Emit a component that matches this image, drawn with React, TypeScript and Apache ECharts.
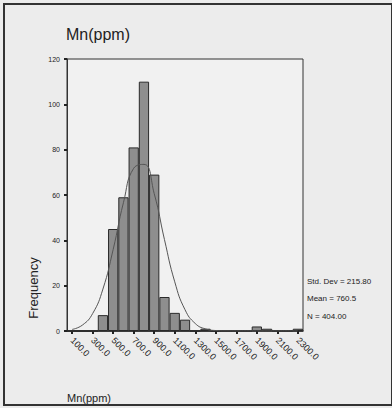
import React, { useEffect, useRef } from "react";
import * as echarts from "echarts";

const binLabels = [
  "100.0", "200.0", "300.0", "400.0", "500.0", "600.0", "700.0", "800.0",
  "900.0", "1000.0", "1100.0", "1200.0", "1300.0", "1400.0", "1500.0", "1600.0",
  "1700.0", "1800.0", "1900.0", "2000.0", "2100.0", "2200.0", "2300.0",
];
const frequencies = [0, 0, 0, 7, 45, 59, 81, 110, 69, 15, 8, 5, 0, 1, 0, 0, 0, 0, 2, 1, 0, 0, 1];
const normalCurve = [0.7, 2.6, 7.7, 18.5, 36, 56.6, 71.8, 73.5, 60.6, 40.3, 21.7, 9.4, 3.3, 0.9, 0.2, 0, 0, 0, 0, 0, 0, 0, 0];
const statLines = ["Std. Dev = 215.80", "Mean = 760.5", "N = 404.00"];
const titleText = "Mn(ppm)";
const xName = "Mn(ppm)";
const yName = "Frequency";

const FONT = "'Liberation Sans', Arial, sans-serif";

export default function App() {
  const ref = useRef<HTMLDivElement>(null);
  useEffect(() => {
    document.body.style.margin = "0";
    const chart = echarts.init(ref.current!, null, { renderer: "svg" });
    const statY = [281, 298, 316];
    chart.setOption({
      animation: false,
      backgroundColor: "#ececec",
      grid: {
        left: 67,
        right: 89,
        top: 59,
        bottom: 77,
        show: true,
        borderColor: "#333",
        borderWidth: 1,
        backgroundColor: "#f1f1f1",
      },
      xAxis: {
        type: "category",
        data: binLabels,
        boundaryGap: true,
        axisLine: { lineStyle: { color: "#222", width: 1.5 } },
        axisTick: { show: true, alignWithLabel: true, interval: 1, length: 3, lineStyle: { color: "#222", width: 2 } },
        axisLabel: {
          interval: 1,
          rotate: -45,
          fontSize: 9,
          fontFamily: FONT,
          color: "#222",
          margin: 8,
        },
      },
      yAxis: {
        type: "value",
        min: 0,
        max: 120,
        interval: 20,
        splitLine: { show: false },
        axisLine: { show: true, lineStyle: { color: "#333", width: 1 } },
        axisTick: { show: true, length: 3, lineStyle: { color: "#222", width: 2 } },
        axisLabel: { fontSize: 7, fontFamily: FONT, color: "#222", margin: 7 },
      },
      series: [
        {
          type: "bar",
          data: frequencies,
          barCategoryGap: "0%",
          itemStyle: { color: "#8e8e8e", borderColor: "#2a2a2a", borderWidth: 1 },
        },
        {
          type: "line",
          data: normalCurve,
          smooth: true,
          symbol: "none",
          lineStyle: { color: "#555", width: 1 },
        },
      ],
      graphic: [
        {
          type: "rect",
          shape: { x: 4, y: 4, width: 388, height: 401 },
          style: { fill: "none", stroke: "#333", lineWidth: 2 },
        },
        {
          type: "text",
          x: 66,
          y: 34,
          style: { text: titleText, font: `16px ${FONT}`, fill: "#222", textVerticalAlign: "middle" },
        },
        {
          type: "text",
          x: 67,
          y: 398,
          style: { text: xName, font: `11px ${FONT}`, fill: "#222", textVerticalAlign: "middle" },
        },
        {
          type: "text",
          x: 33,
          y: 288,
          rotation: Math.PI / 2,
          style: { text: yName, font: `13px ${FONT}`, fill: "#222", textAlign: "center", textVerticalAlign: "middle" },
        },
        ...statLines.map((t, i) => ({
          type: "text",
          x: 307,
          y: statY[i],
          style: { text: t, font: `8px ${FONT}`, fill: "#222", textVerticalAlign: "middle" },
        })),
      ],
    });
    return () => chart.dispose();
  }, []);
  return <div ref={ref} style={{ width: 392, height: 408, position: "absolute", left: 0, top: 0 }} />;
}
